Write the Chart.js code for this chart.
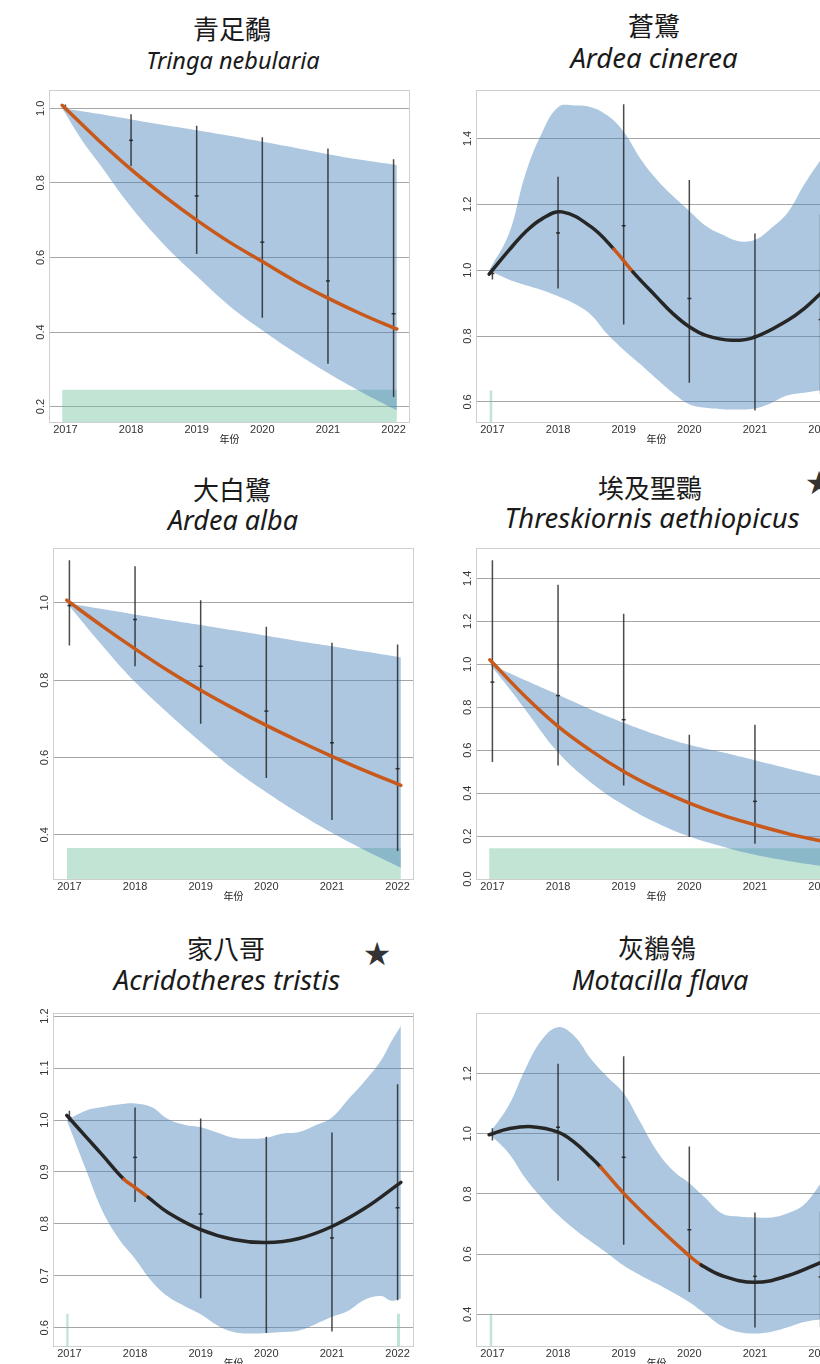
<!DOCTYPE html>
<html lang="zh-Hant">
<head>
<meta charset="UTF-8">
<title>物種族群趨勢</title>
<script src="https://cdn.jsdelivr.net/npm/chart.js"></script>
<style>
  html, body { margin: 0; padding: 0; background: #fff; }
  body { position: relative; width: 820px; height: 1364px; overflow: hidden; }
  canvas { position: absolute; }
  .zh, .la, .star { position: absolute; white-space: nowrap; transform: translateX(-50%); color: #1a1a1a; }
  .zh { font: 26px/26px "Noto Sans CJK TC", sans-serif; }
  .la { font-family: "Noto Sans", sans-serif; font-style: italic; }
  .star { font: 32px/32px "DejaVu Sans", sans-serif; color: #333; }
</style>
</head>
<body>

<!-- species titles -->
<div class="zh" style="left:232px;top:15px">青足鷸</div>
<div class="la" style="left:233px;top:49px;font-size:23.5px;line-height:23.5px">Tringa nebularia</div>
<div class="zh" style="left:654px;top:12px">蒼鷺</div>
<div class="la" style="left:654px;top:44px;font-size:27.5px;line-height:27.5px">Ardea cinerea</div>
<div class="zh" style="left:232px;top:476px">大白鷺</div>
<div class="la" style="left:233px;top:506px;font-size:27px;line-height:27px">Ardea alba</div>
<div class="zh" style="left:650px;top:474px">埃及聖䴉</div>
<div class="la" style="left:652px;top:504px;font-size:27.5px;line-height:27.5px">Threskiornis aethiopicus</div>
<div class="star" style="left:819px;top:467px">★</div>
<div class="zh" style="left:226px;top:935px">家八哥</div>
<div class="la" style="left:227px;top:966px;font-size:27.5px;line-height:27.5px">Acridotheres tristis</div>
<div class="star" style="left:377px;top:938px">★</div>
<div class="zh" style="left:657px;top:934px">灰鶺鴒</div>
<div class="la" style="left:660px;top:966px;font-size:27px;line-height:27px">Motacilla flava</div>

<canvas id="c1" width="416" height="375" style="left:4px;top:78px"></canvas>
<canvas id="c2" width="416" height="375" style="left:431px;top:78px"></canvas>
<canvas id="c3" width="416" height="374" style="left:8px;top:536px"></canvas>
<canvas id="c4" width="416" height="374" style="left:431px;top:536px"></canvas>
<canvas id="c5" width="416" height="376" style="left:8px;top:1001px"></canvas>
<canvas id="c6" width="416" height="376" style="left:431px;top:1001px"></canvas>

<script>
  const years = [2017, 2018, 2019, 2020, 2021, 2022];
  const xTicks = [2017, 2018, 2019, 2020, 2021, 2022];

  // 青足鷸 Tringa nebularia
  const tnIdx = [1.0, 0.914, 0.765, 0.641, 0.537, 0.449];
  const tnLo = [0.995, 0.845, 0.609, 0.438, 0.315, 0.226];
  const tnHi = [1.01, 0.984, 0.953, 0.922, 0.892, 0.863];
  const tnTrendX = [2016.95, 2017.5, 2018, 2018.5, 2019, 2019.5, 2020, 2020.5, 2021, 2021.5, 2022, 2022.05];
  const tnTrendY = [1.008, 0.915, 0.836, 0.765, 0.700, 0.641, 0.589, 0.537, 0.491, 0.449, 0.411, 0.408];
  const tnSig = [[2016.9, 2022.1]];
  const tnBandX = [2016.95, 2017.25, 2017.5, 2018, 2018.5, 2019, 2019.5, 2020, 2020.5, 2021, 2021.5, 2022.05];
  const tnBandHi = [1.0, 0.992, 0.985, 0.97, 0.955, 0.941, 0.926, 0.91, 0.894, 0.877, 0.862, 0.848];
  const tnBandLo = [1.0, 0.915, 0.855, 0.735, 0.635, 0.55, 0.47, 0.405, 0.345, 0.29, 0.24, 0.19];
  const tnGreen = [[2016.95, 2022.05]];
  const tnGreenTop = 0.245;
  const tnY = [0.156, 1.049];
  const tnYTicks = [0.2, 0.4, 0.6, 0.8, 1.0];

  // 蒼鷺 Ardea cinerea
  const acIdx = [0.99, 1.113, 1.135, 0.914, 0.80, 0.85];
  const acLo = [0.972, 0.944, 0.835, 0.658, 0.574, 0.623];
  const acHi = [1.005, 1.284, 1.504, 1.274, 1.111, 1.169];
  const acTrendX = [2016.95, 2017.25, 2017.5, 2017.75, 2018.06, 2018.5, 2018.85, 2019.14, 2019.5, 2019.75, 2020, 2020.25, 2020.65, 2021, 2021.5, 2021.75, 2022, 2022.05];
  const acTrendY = [0.988, 1.06, 1.115, 1.155, 1.177, 1.132, 1.064, 0.995, 0.919, 0.868, 0.828, 0.802, 0.787, 0.797, 0.848, 0.883, 0.929, 0.938];
  const acSig = [[2018.85, 2019.14]];
  const acBandX = [2016.95, 2017.25, 2017.5, 2017.75, 2018, 2018.25, 2018.5, 2018.75, 2019, 2019.25, 2019.5, 2019.75, 2020, 2020.25, 2020.5, 2020.75, 2021, 2021.25, 2021.5, 2021.75, 2022.05];
  const acBandHi = [1.0, 1.11, 1.29, 1.415, 1.495, 1.50, 1.495, 1.47, 1.42, 1.34, 1.276, 1.225, 1.18, 1.135, 1.108, 1.088, 1.092, 1.128, 1.175, 1.26, 1.35];
  const acBandLo = [1.0, 0.972, 0.955, 0.94, 0.921, 0.898, 0.865, 0.806, 0.758, 0.715, 0.67, 0.627, 0.593, 0.582, 0.578, 0.577, 0.58, 0.597, 0.62, 0.628, 0.637];
  const acGreen = [[2016.955, 2017.0]];
  const acGreenTop = 0.635;
  const acY = [0.536, 1.547];
  const acYTicks = [0.6, 0.8, 1.0, 1.2, 1.4];

  // 大白鷺 Ardea alba
  const aaIdx = [0.993, 0.957, 0.836, 0.72, 0.638, 0.571];
  const aaLo = [0.89, 0.836, 0.687, 0.547, 0.438, 0.358];
  const aaHi = [1.11, 1.095, 1.007, 0.938, 0.897, 0.892];
  const aaTrendX = [2016.96, 2017.5, 2018, 2018.5, 2019, 2019.5, 2020, 2020.5, 2021, 2021.5, 2022.05];
  const aaTrendY = [1.007, 0.94, 0.881, 0.825, 0.774, 0.727, 0.683, 0.642, 0.603, 0.566, 0.528];
  const aaSig = [[2016.9, 2022.1]];
  const aaBandX = [2016.96, 2017.5, 2018, 2018.5, 2019, 2019.5, 2020, 2020.5, 2021, 2021.5, 2022.05];
  const aaBandHi = [1.0, 0.984, 0.97, 0.956, 0.943, 0.929, 0.915, 0.901, 0.888, 0.874, 0.859];
  const aaBandLo = [1.0, 0.89, 0.795, 0.715, 0.64, 0.57, 0.51, 0.455, 0.405, 0.36, 0.315];
  const aaGreen = [[2016.96, 2022.05]];
  const aaGreenTop = 0.366;
  const aaY = [0.283, 1.142];
  const aaYTicks = [0.4, 0.6, 0.8, 1.0];

  // 埃及聖䴉 Threskiornis aethiopicus
  const taYears = [2017, 2018, 2019, 2020, 2021];
  const taIdx = [0.917, 0.854, 0.742, 0.354, 0.362];
  const taLo = [0.545, 0.529, 0.436, 0.196, 0.165];
  const taHi = [1.484, 1.370, 1.235, 0.672, 0.719];
  const taTrendX = [2016.96, 2017.5, 2018, 2018.5, 2019, 2019.5, 2020, 2020.5, 2021, 2021.5, 2022.05];
  const taTrendY = [1.021, 0.85, 0.711, 0.598, 0.501, 0.421, 0.354, 0.298, 0.253, 0.212, 0.175];
  const taSig = [[2016.9, 2022.1]];
  const taBandX = [2016.96, 2017.25, 2017.5, 2018, 2018.5, 2019, 2019.5, 2020, 2020.5, 2021, 2021.5, 2022.05];
  const taBandHi = [1.0, 0.96, 0.925, 0.858, 0.79, 0.728, 0.672, 0.625, 0.59, 0.553, 0.515, 0.476];
  const taBandLo = [1.0, 0.89, 0.79, 0.59, 0.45, 0.345, 0.262, 0.198, 0.152, 0.113, 0.085, 0.06];
  const taGreen = [[2016.95, 2022.05]];
  const taGreenTop = 0.144;
  const taY = [-0.004, 1.541];
  const taYTicks = [0.0, 0.2, 0.4, 0.6, 0.8, 1.0, 1.2, 1.4];

  // 家八哥 Acridotheres tristis
  const atIdx = [1.005, 0.928, 0.819, 0.765, 0.773, 0.831];
  const atLo = [0.997, 0.842, 0.657, 0.590, 0.593, 0.653];
  const atHi = [1.018, 1.024, 1.003, 0.968, 0.976, 1.069];
  const atTrendX = [2016.96, 2017.25, 2017.5, 2017.83, 2018, 2018.2, 2018.5, 2019, 2019.5, 2020, 2020.5, 2021, 2021.5, 2022.05];
  const atTrendY = [1.009, 0.968, 0.933, 0.886, 0.87, 0.851, 0.822, 0.789, 0.77, 0.764, 0.772, 0.795, 0.83, 0.88];
  const atSig = [[2017.83, 2018.2]];
  const atBandX = [2016.96, 2017.25, 2017.5, 2017.75, 2018, 2018.25, 2018.5, 2018.75, 2019, 2019.25, 2019.5, 2019.75, 2020, 2020.25, 2020.5, 2020.75, 2021, 2021.25, 2021.5, 2021.75, 2021.9, 2022.05];
  const atBandHi = [1.0, 1.018, 1.025, 1.03, 1.032, 1.025, 1.002, 0.991, 0.986, 0.976, 0.966, 0.964, 0.966, 0.974, 0.977, 0.99, 1.005, 1.04, 1.075, 1.115, 1.15, 1.181];
  const atBandLo = [1.0, 0.905, 0.826, 0.772, 0.733, 0.69, 0.66, 0.642, 0.626, 0.605, 0.592, 0.589, 0.59, 0.592, 0.595, 0.607, 0.621, 0.633, 0.654, 0.661, 0.652, 0.656];
  const atGreen = [[2016.95, 2016.99], [2021.99, 2022.04]];
  const atGreenTop = 0.627;
  const atY = [0.563, 1.206];
  const atYTicks = [0.6, 0.7, 0.8, 0.9, 1.0, 1.1, 1.2];

  // 灰鶺鴒 Motacilla flava
  const mfIdx = [1.0, 1.022, 0.922, 0.681, 0.526, 0.524];
  const mfLo = [0.978, 0.844, 0.631, 0.474, 0.356, 0.358];
  const mfHi = [1.019, 1.233, 1.258, 0.958, 0.738, 0.742];
  const mfTrendX = [2016.95, 2017.25, 2017.6, 2018, 2018.25, 2018.5, 2018.65, 2019, 2019.5, 2020, 2020.18, 2020.5, 2021, 2021.5, 2022, 2022.05];
  const mfTrendY = [0.997, 1.017, 1.024, 1.006, 0.972, 0.922, 0.889, 0.802, 0.694, 0.594, 0.564, 0.528, 0.506, 0.528, 0.572, 0.578];
  const mfSig = [[2018.65, 2020.18]];
  const mfBandX = [2016.95, 2017.25, 2017.5, 2017.75, 2018, 2018.25, 2018.5, 2018.75, 2019, 2019.25, 2019.5, 2019.75, 2020, 2020.25, 2020.5, 2020.75, 2021, 2021.25, 2021.5, 2021.75, 2022.05];
  const mfBandHi = [1.0, 1.095, 1.215, 1.312, 1.355, 1.325, 1.25, 1.19, 1.135, 1.04, 0.945, 0.878, 0.836, 0.786, 0.735, 0.725, 0.722, 0.722, 0.736, 0.765, 0.85];
  const mfBandLo = [1.0, 0.935, 0.853, 0.787, 0.73, 0.683, 0.642, 0.603, 0.562, 0.53, 0.502, 0.472, 0.44, 0.4, 0.36, 0.341, 0.336, 0.342, 0.357, 0.374, 0.384];
  const mfGreen = [[2016.955, 2017.0]];
  const mfGreenTop = 0.402;
  const mfY = [0.291, 1.402];
  const mfYTicks = [0.4, 0.6, 0.8, 1.0, 1.2];

  const ORANGE = '#c9581b';
  const BLACK = '#262626';
  const BAND = 'rgba(70, 130, 185, 0.45)';
  const GREEN = 'rgba(120, 196, 162, 0.45)';
  const TICK_FONT = { family: '"Liberation Sans", Arial, sans-serif', size: 11 };

  const zip = (xs, ys) => xs.map((x, i) => ({ x, y: ys[i] }));
  const inSpans = (x, spans) => spans.some(s => x >= s[0] && x <= s[1]);

  // light grey box round the plot area
  const frame = {
    id: 'frame',
    afterDatasetsDraw(chart) {
      const a = chart.chartArea, c = chart.ctx;
      c.save();
      c.strokeStyle = '#cfcfcf';
      c.lineWidth = 1;
      c.strokeRect(a.left + 0.5, a.top + 0.5, a.right - a.left - 1, a.bottom - a.top - 1);
      c.restore();
    }
  };

  function drawPanel(id, p) {
    const errPts = [];
    p.years.forEach((yr, i) => {
      errPts.push({ x: yr, y: p.lo[i] }, { x: yr, y: p.hi[i] }, { x: yr, y: null });
    });

    const datasets = [
      {
        // fitted trend, orange where significant
        data: zip(p.trendX, p.trendY),
        borderWidth: 3.5,
        tension: 0.4,
        borderColor: BLACK,
        segment: {
          borderColor: ctx => inSpans((ctx.p0.parsed.x + ctx.p1.parsed.x) / 2, p.sig) ? ORANGE : BLACK
        },
        borderCapStyle: 'round',
        pointRadius: 0
      },
      {
        // yearly index marks
        data: zip(p.years, p.idx),
        showLine: false,
        pointStyle: 'line',
        pointRadius: 2,
        borderWidth: 1.5,
        borderColor: 'rgba(30,30,30,0.85)'
      },
      {
        // yearly error bars
        data: errPts,
        borderColor: 'rgba(30,30,30,0.8)',
        borderWidth: 1.5,
        spanGaps: false,
        pointRadius: 0
      },
      {
        data: zip(p.bandX, p.bandHi),
        borderWidth: 0,
        tension: 0.4,
        pointRadius: 0,
        fill: '+1',
        backgroundColor: BAND
      },
      {
        data: zip(p.bandX, p.bandLo),
        borderWidth: 0,
        tension: 0.4,
        pointRadius: 0
      }
    ];
    p.green.forEach(s => {
      datasets.push({
        data: [{ x: s[0], y: p.greenTop }, { x: s[1], y: p.greenTop }],
        borderWidth: 0,
        pointRadius: 0,
        fill: 'start',
        backgroundColor: GREEN
      });
    });

    new Chart(document.getElementById(id), {
      type: 'line',
      data: { datasets },
      options: {
        responsive: false,
        animation: false,
        events: [],
        layout: { padding: { top: 12, right: 10, left: 0, bottom: 0 } },
        plugins: { legend: { display: false }, tooltip: { enabled: false } },
        scales: {
          x: {
            type: 'linear',
            min: 2016.75,
            max: 2022.25,
            afterBuildTicks: s => { s.ticks = xTicks.map(v => ({ value: v })); },
            afterFit: s => { s.height = 30; },
            grid: { display: false, drawTicks: false },
            border: { display: false },
            ticks: { padding: 0, color: '#333', font: TICK_FONT, maxRotation: 0, autoSkip: false, callback: v => String(v) },
            title: {
              display: true,
              text: '年份',
              color: '#222',
              padding: { top: 0, bottom: 8 },
              font: { family: '"Noto Sans CJK SC", sans-serif', size: 10 }
            }
          },
          y: {
            type: 'linear',
            min: p.yRange[0],
            max: p.yRange[1],
            afterBuildTicks: s => { s.ticks = p.yTicks.map(v => ({ value: v })); },
            afterFit: s => { s.width = 45; },
            grid: { color: '#a6a6a6', lineWidth: 1, drawTicks: false },
            border: { display: false },
            ticks: {
              padding: 0,
              minRotation: 90,
              maxRotation: 90,
              crossAlign: 'center',
              color: '#333',
              font: TICK_FONT,
              callback: v => v.toFixed(1)
            }
          }
        }
      },
      plugins: [frame]
    });
  }

  drawPanel('c1', { years, idx: tnIdx, lo: tnLo, hi: tnHi, trendX: tnTrendX, trendY: tnTrendY, sig: tnSig,
    bandX: tnBandX, bandHi: tnBandHi, bandLo: tnBandLo, green: tnGreen, greenTop: tnGreenTop, yRange: tnY, yTicks: tnYTicks });
  drawPanel('c2', { years, idx: acIdx, lo: acLo, hi: acHi, trendX: acTrendX, trendY: acTrendY, sig: acSig,
    bandX: acBandX, bandHi: acBandHi, bandLo: acBandLo, green: acGreen, greenTop: acGreenTop, yRange: acY, yTicks: acYTicks });
  drawPanel('c3', { years, idx: aaIdx, lo: aaLo, hi: aaHi, trendX: aaTrendX, trendY: aaTrendY, sig: aaSig,
    bandX: aaBandX, bandHi: aaBandHi, bandLo: aaBandLo, green: aaGreen, greenTop: aaGreenTop, yRange: aaY, yTicks: aaYTicks });
  drawPanel('c4', { years: taYears, idx: taIdx, lo: taLo, hi: taHi, trendX: taTrendX, trendY: taTrendY, sig: taSig,
    bandX: taBandX, bandHi: taBandHi, bandLo: taBandLo, green: taGreen, greenTop: taGreenTop, yRange: taY, yTicks: taYTicks });
  drawPanel('c5', { years, idx: atIdx, lo: atLo, hi: atHi, trendX: atTrendX, trendY: atTrendY, sig: atSig,
    bandX: atBandX, bandHi: atBandHi, bandLo: atBandLo, green: atGreen, greenTop: atGreenTop, yRange: atY, yTicks: atYTicks });
  drawPanel('c6', { years, idx: mfIdx, lo: mfLo, hi: mfHi, trendX: mfTrendX, trendY: mfTrendY, sig: mfSig,
    bandX: mfBandX, bandHi: mfBandHi, bandLo: mfBandLo, green: mfGreen, greenTop: mfGreenTop, yRange: mfY, yTicks: mfYTicks });
</script>
</body>
</html>
